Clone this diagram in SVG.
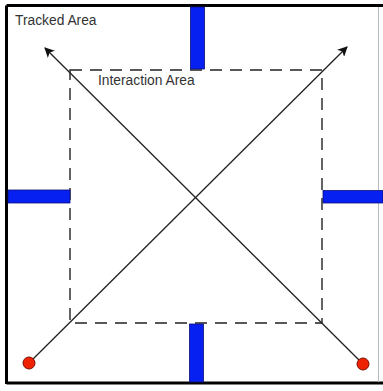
<svg xmlns="http://www.w3.org/2000/svg" width="383" height="391" viewBox="0 0 383 391">
<defs>
<style>
.border{stroke:#000;stroke-width:3;fill:none}
.bar{fill:#0520f0;stroke:#10107a;stroke-width:0.8}
.dash{fill:none;stroke:#222;stroke-width:1.4;stroke-dasharray:12 8}
.conn{stroke:#222;stroke-width:1.3;fill:none}
.dot{fill:#ee2200;stroke:#7a1000;stroke-width:1}
.lbl{font-family:"Liberation Sans",Arial,sans-serif;font-size:13.8px;fill:#333}
</style>
<marker id="ah" viewBox="0 0 10 10" refX="9" refY="5" markerWidth="10" markerHeight="10" markerUnits="userSpaceOnUse" orient="auto">
<path d="M0,0 L10,5 L0,10 L2.5,5 Z" fill="#111"/>
</marker>
</defs>
<rect width="383" height="391" fill="#fff"/>
<g id="tracked-area">
<line class="border" x1="6.5" y1="5.5" x2="383" y2="5.5"/>
<line class="border" x1="6.5" y1="5.5" x2="6.5" y2="384"/>
<line class="border" x1="6.5" y1="383" x2="383" y2="383"/>
<line x1="378.5" y1="7" x2="378.5" y2="382" stroke="#bbb" stroke-width="1"/>
<text class="lbl" x="15" y="25">Tracked Area</text>
</g>
<g id="interaction-area">
<rect class="dash" x="70" y="70" width="252" height="253"/>
<text class="lbl" x="98" y="85">Interaction Area</text>
</g>
<g id="bar-top"><rect class="bar" x="190.5" y="7" width="14" height="62"/></g>
<g id="bar-bottom"><rect class="bar" x="189.5" y="324" width="14" height="58"/></g>
<g id="bar-left"><rect class="bar" x="8" y="190" width="62" height="13"/></g>
<g id="bar-right"><rect class="bar" x="323" y="190.5" width="60" height="12.5"/></g>
<g id="connectors">
<line class="conn" x1="29" y1="363" x2="347" y2="47" marker-end="url(#ah)"/>
<line class="conn" x1="363" y1="364" x2="45" y2="48" marker-end="url(#ah)"/>
</g>
<g id="start-left"><circle class="dot" cx="29" cy="363" r="6"/></g>
<g id="start-right"><circle class="dot" cx="363" cy="364" r="6"/></g>
</svg>
